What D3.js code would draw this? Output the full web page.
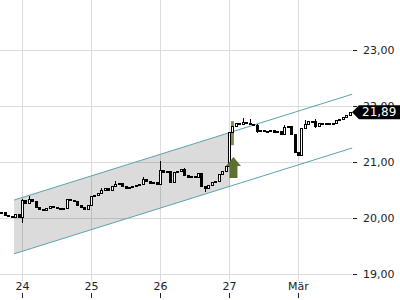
<!DOCTYPE html>
<html>
<head>
<meta charset="utf-8">
<script src="https://cdn.jsdelivr.net/npm/d3@7"></script>
<style>
  html, body { margin: 0; padding: 0; background: #fff; }
  svg { display: block; font-family: "DejaVu Sans", sans-serif; }
</style>
</head>
<body>
<div id="chart"></div>
<script>
// ── Data ──
const dayLabels = ["24", "25", "26", "27", "Mär"];
const dayStartIdx = [6, 26, 46, 66, 86];
const yTicks = [19, 20, 21, 22, 23];

// close per bar (open = previous close)
const closes = [
  20.10, 20.05, 20.04, 20.02, 20.07, 20.02,
  20.32, 20.27, 20.34, 20.30, 20.20, 20.16, 20.14, 20.18, 20.21, 20.20,
  20.18, 20.16, 20.18, 20.34, 20.32, 20.30, 20.23, 20.20, 20.16, 20.23,
  20.39, 20.41, 20.45, 20.50, 20.54, 20.50, 20.57, 20.61, 20.63, 20.57,
  20.54, 20.55, 20.57, 20.59, 20.61, 20.70, 20.66, 20.63, 20.64, 20.61,
  20.86, 20.82, 20.84, 20.64, 20.82, 20.84, 20.88, 20.77, 20.73, 20.75,
  20.73, 20.80, 20.57, 20.54, 20.59, 20.64, 20.66, 20.79, 20.84, 20.93,
  21.54, 21.64, 21.70, 21.68, 21.71, 21.70, 21.68, 21.66, 21.55, 21.57,
  21.55, 21.55, 21.57, 21.54, 21.55, 21.50, 21.63, 21.64, 21.50, 21.18,
  21.13, 21.61, 21.68, 21.73, 21.73, 21.64, 21.70, 21.70, 21.68, 21.70,
  21.70, 21.75, 21.77, 21.80, 21.84, 21.89
];
const firstOpen = 20.08;

// wicks beyond the body
const wicks = [
  { i: 6, hi: 20.34, lo: 19.91 },
  { i: 8, hi: 20.40, lo: 20.27 },
  { i: 29, hi: 20.54, lo: 20.45 },
  { i: 33, hi: 20.66, lo: 20.57 },
  { i: 41, hi: 20.74, lo: 20.61 },
  { i: 46, hi: 21.02, lo: 20.61 },
  { i: 53, hi: 20.90, lo: 20.77 },
  { i: 59, hi: 20.57, lo: 20.46 },
  { i: 70, hi: 21.79, lo: 21.68 },
  { i: 72, hi: 21.76, lo: 21.66 },
  { i: 74, hi: 21.68, lo: 21.52 },
  { i: 82, hi: 21.66, lo: 21.50 },
  { i: 88, hi: 21.75, lo: 21.61 },
  { i: 91, hi: 21.76, lo: 21.60 }
];

// trend channel
const channelIdx = [3.7, 101.7];
const channelUpper = [20.32, 22.21];
const channelLower = [19.36, 21.25];
const breakoutIdx = 66.3;

const signal = { i: 67, tip: 21.09, barHi: 21.73, barLo: 21.30 };
const lastPrice = 21.89;

// ── Canvas ──
const W = 400, H = 300, plotR = 352, plotB = 281;
const fmt = v => d3.format(".2f")(v).replace(".", ",");

const svg = d3.select("#chart").append("svg")
  .attr("width", W).attr("height", H);

const x = d3.scaleLinear().domain([6, 86]).range([22, 298]);
const y = d3.scaleLinear().domain([19, 23]).range([274, 50]);

// ── Grid ──
const grid = svg.append("g").attr("shape-rendering", "crispEdges");
grid.selectAll("line.h").data(yTicks).join("line")
  .attr("x1", 0).attr("x2", plotR)
  .attr("y1", d => Math.round(y(d)) + 0.5).attr("y2", d => Math.round(y(d)) + 0.5)
  .attr("stroke", "#dcdcdc");
grid.selectAll("line.v").data(dayStartIdx).join("line")
  .attr("x1", d => Math.round(x(d)) + 0.5).attr("x2", d => Math.round(x(d)) + 0.5)
  .attr("y1", 0).attr("y2", plotB)
  .attr("stroke", "#dcdcdc");

// ── Channel fill (up to breakout) ──
const lerp = (arr, i) => arr[0] + (arr[1] - arr[0]) * (i - channelIdx[0]) / (channelIdx[1] - channelIdx[0]);
const fillPts = [
  [x(channelIdx[0]), y(channelUpper[0])],
  [x(breakoutIdx), y(lerp(channelUpper, breakoutIdx))],
  [x(breakoutIdx), y(lerp(channelLower, breakoutIdx))],
  [x(channelIdx[0]), y(channelLower[0])]
];
svg.append("polygon")
  .attr("points", fillPts.map(p => p.join(",")).join(" "))
  .attr("fill", "rgba(0,0,0,0.14)");

// channel lines
[channelUpper, channelLower].forEach(arr => {
  svg.append("line")
    .attr("x1", x(channelIdx[0])).attr("y1", y(arr[0]))
    .attr("x2", x(channelIdx[1])).attr("y2", y(arr[1]))
    .attr("stroke", "#5ba3ab").attr("stroke-width", 1);
});

// ── Signal highlight bar ──
svg.append("rect")
  .attr("x", x(signal.i) - 1.5).attr("width", 3)
  .attr("y", y(signal.barHi)).attr("height", y(signal.barLo) - y(signal.barHi))
  .attr("fill", "#6b7d35").attr("opacity", 0.85);

// ── Candles ──
const bars = closes.map((c, i) => {
  const o = i === 0 ? firstOpen : closes[i - 1];
  const w = wicks.find(k => k.i === i);
  return { i, o, c, hi: w ? Math.max(w.hi, o, c) : Math.max(o, c), lo: w ? Math.min(w.lo, o, c) : Math.min(o, c) };
});

const cg = svg.append("g").attr("shape-rendering", "crispEdges");
const bw = 2;
cg.selectAll("line.wick").data(bars).join("line")
  .attr("x1", d => Math.round(x(d.i)) + 0.5).attr("x2", d => Math.round(x(d.i)) + 0.5)
  .attr("y1", d => y(d.hi)).attr("y2", d => y(d.lo))
  .attr("stroke", "#000");
cg.selectAll("rect.body").data(bars).join("rect")
  .attr("x", d => Math.round(x(d.i)) - bw / 2 + 0.5)
  .attr("width", bw)
  .attr("y", d => Math.round(y(Math.max(d.o, d.c))) + 0.5)
  .attr("height", d => Math.max(1, Math.round(Math.abs(y(d.o) - y(d.c)))))
  .attr("fill", d => d.c >= d.o ? "#fff" : "#000")
  .attr("stroke", "#000");

// ── Signal arrow ──
const ax = x(signal.i) + 1, at = y(signal.tip);
svg.append("path")
  .attr("d", `M${ax},${at} L${ax + 7.5},${at + 9} L${ax + 4},${at + 9} L${ax + 4},${at + 21}
              L${ax - 4},${at + 21} L${ax - 4},${at + 9} L${ax - 7.5},${at + 9} Z`)
  .attr("fill", "#5e7030");

// ── Y axis (right) ──
const ya = svg.append("g");
ya.selectAll("line").data(yTicks).join("line")
  .attr("x1", plotR + 1).attr("x2", plotR + 5)
  .attr("y1", d => Math.round(y(d)) + 0.5).attr("y2", d => Math.round(y(d)) + 0.5)
  .attr("stroke", "#222").attr("shape-rendering", "crispEdges");
ya.selectAll("text").data(yTicks).join("text")
  .attr("x", 363).attr("y", d => y(d)).attr("dy", "0.35em")
  .attr("font-size", 11).attr("fill", "#222")
  .text(fmt);

// ── X axis ──
const xa = svg.append("g");
xa.selectAll("text").data(dayStartIdx).join("text")
  .attr("x", d => x(d) + 0.5).attr("y", 290)
  .attr("text-anchor", "middle").attr("font-size", 11).attr("fill", "#222")
  .text((d, k) => dayLabels[k]);
xa.selectAll("line").data(dayStartIdx).join("line")
  .attr("x1", d => Math.round(x(d)) + 0.5).attr("x2", d => Math.round(x(d)) + 0.5)
  .attr("y1", 293).attr("y2", 298)
  .attr("stroke", "#222").attr("shape-rendering", "crispEdges");

// ── Last price tag (covers the 22,00 label, as in the source) ──
const ly = y(lastPrice);
svg.append("path")
  .attr("d", `M${plotR},${ly} L${plotR + 7},${ly - 7} L${W},${ly - 7} L${W},${ly + 7} L${plotR + 7},${ly + 7} Z`)
  .attr("fill", "#000");
svg.append("text")
  .attr("x", 362).attr("y", ly).attr("dy", "0.36em")
  .attr("font-size", 12).attr("fill", "#fff")
  .text(fmt(lastPrice));
</script>
</body>
</html>
